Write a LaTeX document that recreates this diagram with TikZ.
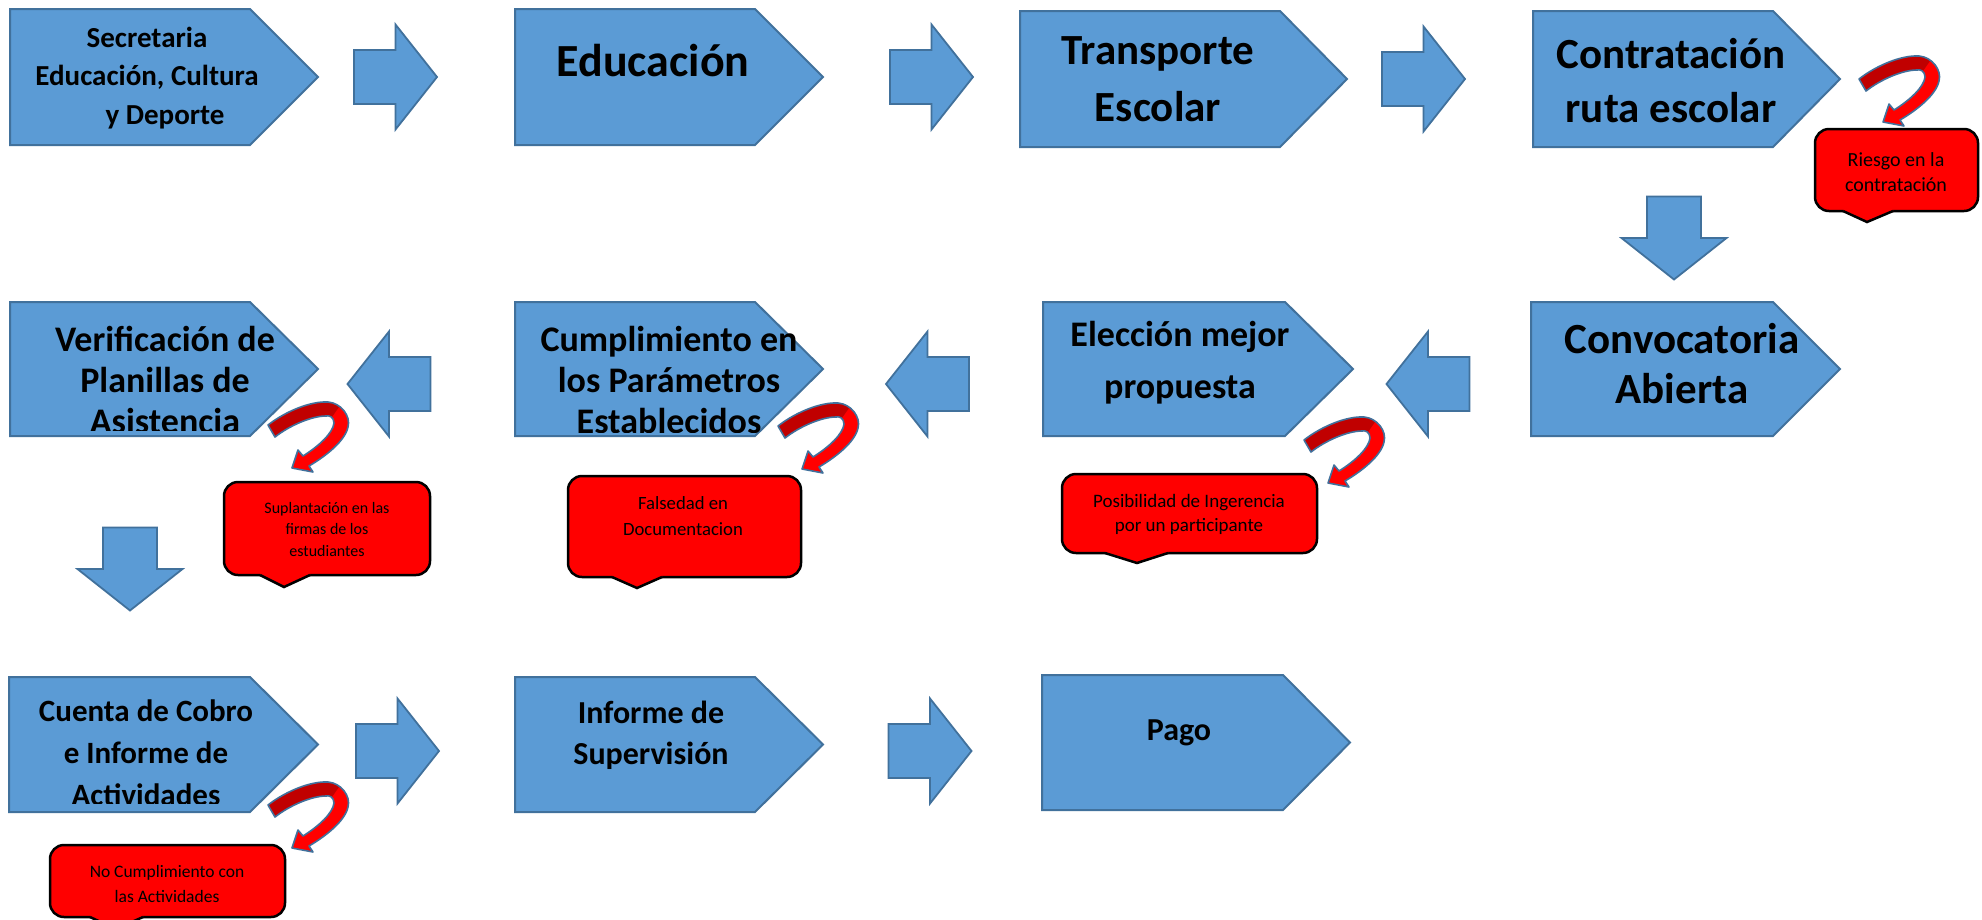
\documentclass[tikz,border=0pt]{standalone}
\usepackage{fontspec}
\setmainfont{Carlito}
\definecolor{boxfill}{HTML}{5B9BD5}
\definecolor{boxline}{HTML}{41719C}
\definecolor{riskdark}{HTML}{C00000}
\newcommand\riskoutline{(-3,-6) .. controls (15,-20) and (40,-30) .. (57,-29) .. controls (70,-28) and (80,-15) .. (77,-4) .. controls (74,10) and (55,25) .. (38,35) -- (42,41) -- (21,37) -- (27,19) -- (32,25) .. controls (48,15) and (62,2) .. (63,-8) .. controls (63,-14) and (58,-16) .. (55,-15) .. controls (40,-15) and (18,-5) .. (4,6) -- cycle}
\tikzset{
  plate/.style={fill=boxfill, draw=boxline, line width=2pt},
  blk/.style={fill=boxfill, draw=boxline, line width=1.8pt},
  calloutbox/.style={fill=red, draw=black, line width=2.5pt, rounded corners=14pt},
  platetext/.style={align=center, inner sep=0pt},
  calltext/.style={align=center, inner sep=0pt},
  blockarrow/.pic={\path[blk] (-41.5,-27) -- (0,-27) -- (0,-52.5) -- (41.5,0) -- (0,52.5) -- (0,27) -- (-41.5,27) -- cycle;},
  riskarrow/.pic={
    \path[fill=red] \riskoutline;
    \path[fill=riskdark] (-3,-6) .. controls (15,-20) and (40,-30) .. (57,-29) .. controls (62,-29) and (66,-27) .. (68,-24) -- (61,-14) .. controls (59,-15) and (57,-15) .. (55,-15) .. controls (40,-15) and (18,-5) .. (4,6) -- cycle;
    \path[draw=boxline, line width=1.6pt, line join=round] \riskoutline;
  }
}
% name, left, top, bodyright, tip, bottom
\newcommand\plate[6]{%
  \path[plate] (#2,#3) -- (#4,#3) -- (#5,{(#3+#6)/2}) -- (#4,#6) -- (#2,#6) -- cycle;
  \coordinate (#1) at ({(#2+#5)/2},{(#3+#6)/2});}
% name, L, T, R, B, pointer left, pointer right, tip x, tip y
\newcommand\riskbox[9]{%
  \path[calloutbox] (#2,#3) rectangle (#4,#5);
  \path[fill=red] (#6,{#5-3}) -- (#6,#5) -- (#8,#9) -- (#7,#5) -- (#7,{#5-3}) -- cycle;
  \draw[black, line width=2.5pt, line join=miter] (#6,#5) -- (#8,#9) -- (#7,#5);
  \coordinate (#1) at ({(#2+#4)/2},{(#3+#5)/2});}
\begin{document}
\begin{tikzpicture}[x=1pt, y=-1pt]
\useasboundingbox[fill=white] (0,0) rectangle (1982,919);
\clip (0,0) rectangle (1982,919);

% ---------- row 1 ----------
\plate{b1}{10}{9}{250}{318}{145}
\plate{b2}{515}{9}{755}{823}{145}
\plate{b3}{1020}{11}{1280}{1347}{147}
\plate{b4}{1533}{11}{1773}{1840}{147}
\begin{scope}\clip (10,9) rectangle (318,139);
\node[platetext, font=\bfseries\fontsize{29}{38.5}\selectfont] (t1) at (147,78) {Secretaria\\Educación, Cultura\\\hspace*{36pt}y Deporte};
\end{scope}
\node[platetext, font=\bfseries\fontsize{46}{50}\selectfont] (t2) at (653,61) {Educación};
\node[platetext, font=\bfseries\fontsize{43}{57}\selectfont] (t3) at (1158,79) {Transporte\\Escolar};
\node[platetext, font=\bfseries\fontsize{43}{54}\selectfont] (t4) at (1671,81) {Contratación\\ruta escolar};
\pic (a1) at (395.5,77) {blockarrow};
\pic (a2) at (931.5,77) {blockarrow};
\pic (a3) at (1423.5,79) {blockarrow};
\pic (a4) at (1674,238) [rotate=-90] {blockarrow};
\riskbox{r1}{1815}{129}{1978}{211}{1843}{1893}{1867}{222}
\node[calltext, font=\fontsize{20}{25}\selectfont] (rt1) at (1896,172) {Riesgo en la\\contratación};
\pic (c1) at (1862,85) {riskarrow};

% ---------- row 2 ----------
\plate{b5}{1531}{302}{1773}{1840}{436}
\plate{b6}{1043}{302}{1285}{1353}{436}
\plate{b7}{515}{302}{755}{823}{436}
\plate{b8}{10}{302}{250}{318}{436}
\node[platetext, font=\bfseries\fontsize{43}{50}\selectfont] (t5) at (1682,364) {Convocatoria\\Abierta};
\node[platetext, font=\bfseries\fontsize{36}{52}\selectfont] (t6) at (1180,363) {Elección mejor\\propuesta};
\begin{scope}\clip (515,302) rectangle (823,432);
\node[platetext, font=\bfseries\fontsize{36}{41}\selectfont] (t7) at (669,380) {Cumplimiento en\\los Parámetros\\Establecidos};
\end{scope}
\begin{scope}\clip (10,302) rectangle (318,430);
\node[platetext, font=\bfseries\fontsize{36}{41}\selectfont] (t8) at (165,380) {Verificación de\\Planillas de\\Asistencia};
\end{scope}
\pic (a5) at (1428,384) [rotate=180] {blockarrow};
\pic (a6) at (927.5,384) [rotate=180] {blockarrow};
\pic (a7) at (389,384) [rotate=180] {blockarrow};
\pic (a8) at (130,569) [rotate=-90] {blockarrow};
\riskbox{r2}{1062}{474}{1317}{553}{1105}{1168}{1137}{563}
\node[calltext, font=\fontsize{19}{24}\selectfont] (rt2) at (1189,514) {Posibilidad de Ingerencia\\por un participante};
\riskbox{r3}{568}{476}{801}{577}{612}{662}{637}{588}
\node[calltext, font=\fontsize{18.7}{26}\selectfont] (rt3) at (683,516) {Falsedad en\\Documentacion};
\riskbox{r4}{224}{482}{430}{575}{260}{310}{284}{587}
\node[calltext, font=\fontsize{16}{21.5}\selectfont] (rt4) at (327,529) {Suplantación en las\\firmas de los\\estudiantes};
\pic (c2) at (1307,446) {riskarrow};
\pic (c3) at (781,432) {riskarrow};
\pic (c4) at (271,431) {riskarrow};

% ---------- row 3 ----------
\plate{b9}{9}{677}{250}{318}{812}
\plate{b10}{515}{677}{755}{823}{812}
\plate{b11}{1042}{675}{1283}{1350}{810}
\begin{scope}\clip (9,677) rectangle (318,803);
\node[platetext, font=\bfseries\fontsize{31}{42}\selectfont] (t9) at (146,753) {Cuenta de Cobro\\e Informe de\\Actividades};
\end{scope}
\node[platetext, font=\bfseries\fontsize{32}{41}\selectfont] (t10) at (651,735) {Informe de\\Supervisión};
\node[platetext, font=\bfseries\fontsize{32}{40}\selectfont] (t11) at (1179,733) {Pago};
\pic (a9) at (397.5,751) {blockarrow};
\pic (a10) at (930,751) {blockarrow};
\riskbox{r5}{50}{845}{285}{917}{90}{143}{116}{929}
\node[calltext, font=\fontsize{17.5}{25}\selectfont] (rt5) at (167,884) {No Cumplimiento con\\las Actividades};
\pic (c5) at (271,811) {riskarrow};
\end{tikzpicture}
\end{document}
